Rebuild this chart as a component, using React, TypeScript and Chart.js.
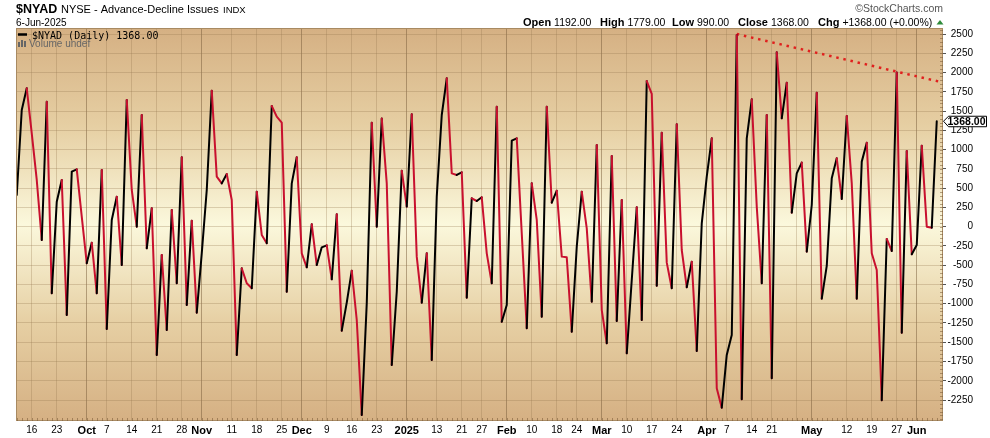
import React, { useEffect, useRef } from "react";
import { Chart, registerables } from "chart.js";

Chart.register(...registerables);

// NYSE Advance-Decline Issues, daily, 11-Sep-2024 .. 6-Jun-2025 (one value per trading day)
const nyadValues: number[] = [
  411, 1514, 1795, 1211, 606, -173, 1622, -865, 324, 606,
  -1146, 714, 744, 130, -476, -208, -865, 735, -1328, 87,
  389, -498, 1644, 476, 0, 1449, -281, 238, -1665, -368,
  -1341, 216, -735, 900, -1017, 78, -1116, -346, 476, 1765,
  649, 562, 683, 346, -1665, -541, -735, -800, 454, -108,
  -216, 1566, 1428, 1350, -844, 562, 900, -346, -528, 30,
  -498, -268, -242, -684, 160, -1350, -986, -571, -1211, -2444,
  -995, 1350, 0, 1402, 562, -1795, -844, 727, 260, 1458,
  -389, -986, -346, -1730, 389, 1449, 1925, 692, 671, 705,
  -921, 368, 333, 381, -346, -735, 1557, -1233, -1017, 1116,
  1146, -87, -1319, 562, 87, -1168, 1557, 311, 467, -389,
  -398, -1363, -260, 454, -22, -973, 1060, -1082, -1514, 917,
  -1224, 346, -1644, -692, 251, -1211, 1890, 1722, -766, 1220,
  -467, -800, 1328, -303, -787, -454, -1614, 43, 649, 1146,
  -2098, -2349, -1665, -1406, 2487, -2241, 1146, 1653, 260, -735,
  1449, -1968, 2262, 1406, 1869, 182, 692, 831, -324, 281,
  1739, -934, -510, 627, 887, 359, 1436, 562, -934, 844,
  1090, -346, -562, -2253, -160, -316, 1999, -1376, 982, -359,
  -238, 1051, 0, -13, 1368,
];

// x-axis labels (trading-day index -> text)
const labelIndices: number[] = [
  3, 8, 14, 18, 23, 28, 33, 37, 43, 48, 53, 57, 62, 67, 72, 78, 84, 89,
  93, 98, 103, 108, 112, 117, 122, 127, 132, 138, 142, 147, 151, 159, 166,
  171, 176, 180,
];
const labelTexts: string[] = [
  "16", "23", "Oct", "7", "14", "21", "28", "Nov", "11", "18", "25", "Dec",
  "9", "16", "23", "2025", "13", "21", "27", "Feb", "10", "18", "24", "Mar",
  "10", "17", "24", "Apr", "7", "14", "21", "May", "12", "19", "27", "Jun",
];
const monthStartIndices: number[] = [14, 37, 57, 78, 98, 117, 138, 159, 180];
const extraGridIndices: number[] = [156];

const yTickValues: number[] = [
  -2250, -2000, -1750, -1500, -1250, -1000, -750, -500, -250, 0, 250, 500,
  750, 1000, 1250, 1500, 1750, 2000, 2250, 2500,
];

// dotted resistance line
const trendIndex: number[] = [144, 185.3];
const trendValue: number[] = [2500, 1870];

const lastValue = "1368.00";
const FONT = "'Liberation Sans', Arial, Helvetica, sans-serif";
const RED = "#c8102e";

export default function App() {
  const ref = useRef<HTMLCanvasElement>(null);

  useEffect(() => {
    document.body.style.margin = "0";
    const canvas = ref.current!;
    const points = nyadValues.map((v, i) => ({ x: i, y: v }));
    const trend = trendIndex.map((x, k) => ({ x, y: trendValue[k] }));
    const gridIndices = Array.from(new Set([...labelIndices, ...extraGridIndices])).sort((a, b) => a - b);

    const bgPlugin = {
      id: "bgGradient",
      beforeDraw(chart: any) {
        const { ctx, chartArea: a } = chart;
        const g = ctx.createLinearGradient(0, a.top, 0, a.bottom);
        g.addColorStop(0, "#d5b083");
        g.addColorStop(0.25, "#e6cfa3");
        g.addColorStop(0.5, "#fbf8dc");
        g.addColorStop(0.75, "#e6cfa3");
        g.addColorStop(1, "#d5b083");
        ctx.save();
        ctx.fillStyle = g;
        ctx.fillRect(a.left, a.top, a.right - a.left, a.bottom - a.top);
        ctx.restore();
      },
    };

    const overlayPlugin = {
      id: "overlay",
      afterDraw(chart: any) {
        const c: CanvasRenderingContext2D = chart.ctx;
        const a = chart.chartArea;
        const xs = chart.scales.x;
        const ys = chart.scales.y;
        c.save();

        // plot border
        c.strokeStyle = "#a88a62";
        c.lineWidth = 1;
        c.strokeRect(a.left + 0.5, a.top + 0.5, a.right - a.left - 1, a.bottom - a.top - 1);

        // minor ticks bottom (daily) and right
        c.strokeStyle = "rgba(120,90,55,0.55)";
        c.beginPath();
        for (let i = 0; i < nyadValues.length; i++) {
          const px = Math.round(xs.getPixelForValue(i)) + 0.5;
          c.moveTo(px, a.bottom - 3);
          c.lineTo(px, a.bottom);
        }
        for (let v = -2500; v <= 2550; v += 50) {
          const py = Math.round(ys.getPixelForValue(v)) + 0.5;
          c.moveTo(a.right - 3, py);
          c.lineTo(a.right, py);
        }
        c.stroke();

        // header
        c.textAlign = "left";
        c.textBaseline = "alphabetic";
        c.fillStyle = "#000";
        c.font = `bold 12.5px ${FONT}`;
        c.fillText("$NYAD", 16, 13);
        c.font = `11px ${FONT}`;
        c.fillText("NYSE - Advance-Decline Issues", 61, 13);
        c.font = `9.5px ${FONT}`;
        c.fillText("INDX", 223, 13);
        c.font = `10px ${FONT}`;
        c.fillText("6-Jun-2025", 16, 26);

        c.textAlign = "right";
        c.fillStyle = "#555";
        c.font = `10.5px ${FONT}`;
        c.fillText("\u00A9StockCharts.com", 943, 12);

        // OHLC row
        c.textAlign = "left";
        const labelsX = [523, 600, 672, 738, 818];
        const labs = ["Open", "High", "Low", "Close", "Chg"];
        const vals = ["1192.00", "1779.00", "990.00", "1368.00", "+1368.00 (+0.00%)"];
        for (let k = 0; k < labs.length; k++) {
          c.fillStyle = "#000";
          c.font = `bold 11px ${FONT}`;
          c.fillText(labs[k], labelsX[k], 26);
          const w = c.measureText(labs[k]).width;
          c.font = `10.5px ${FONT}`;
          c.fillText(vals[k], labelsX[k] + w + 3, 26);
        }
        c.fillStyle = "#2e8b3a";
        c.beginPath();
        c.moveTo(936.5, 24.5);
        c.lineTo(943.5, 24.5);
        c.lineTo(940, 20);
        c.closePath();
        c.fill();

        // in-chart legend
        c.strokeStyle = "#000";
        c.lineWidth = 2.5;
        c.beginPath();
        c.moveTo(18, 34.5);
        c.lineTo(27, 34.5);
        c.stroke();
        c.fillStyle = "#000";
        c.font = `10px 'DejaVu Sans Mono', monospace`;
        c.fillText(`$NYAD (Daily) ${lastValue}`, 32, 38.5);
        c.fillStyle = "#666";
        c.fillRect(18, 42, 2, 5);
        c.fillRect(21, 40, 2, 7);
        c.fillRect(24, 41, 2, 6);
        c.font = `10px ${FONT}`;
        c.fillText("Volume undef", 29, 47);

        // last value marker
        const py = ys.getPixelForValue(nyadValues[nyadValues.length - 1]);
        c.fillStyle = "#fff";
        c.strokeStyle = "#000";
        c.lineWidth = 1;
        c.beginPath();
        c.moveTo(a.right + 0.5, py);
        c.lineTo(a.right + 5.5, py - 5);
        c.lineTo(986.5, py - 5);
        c.lineTo(986.5, py + 5.5);
        c.lineTo(a.right + 5.5, py + 5.5);
        c.closePath();
        c.fill();
        c.stroke();
        c.fillStyle = "#000";
        c.textAlign = "center";
        c.textBaseline = "middle";
        c.font = `bold 10.5px ${FONT}`;
        c.fillText(lastValue, 966.5, py + 0.8);

        c.restore();
      },
    };

    const chart = new Chart(canvas, {
      type: "line",
      data: {
        datasets: [
          {
            data: points,
            borderWidth: 2,
            borderColor: "#000",
            pointRadius: 0,
            tension: 0,
            borderCapStyle: "round",
            borderJoinStyle: "round",
            segment: {
              borderColor: (s: any) => (s.p1.parsed.y >= s.p0.parsed.y ? "#000" : RED),
            },
          } as any,
          {
            data: trend,
            borderWidth: 2.5,
            borderColor: "#e0201e",
            borderDash: [2.5, 4.8],
            pointRadius: 0,
            tension: 0,
          },
        ],
      },
      options: {
        animation: false,
        responsive: false,
        devicePixelRatio: 1,
        layout: { padding: { left: 16, top: 28, right: 17, bottom: 0 } },
        plugins: { legend: { display: false }, tooltip: { enabled: false } },
        scales: {
          x: {
            type: "linear",
            min: -0.15,
            max: 185.25,
            afterBuildTicks: (s: any) => {
              s.ticks = gridIndices.map((v) => ({ value: v }));
            },
            afterFit: (s: any) => {
              s.height = 17;
            },
            border: { display: false },
            grid: {
              drawTicks: false,
              color: (c: any) =>
                monthStartIndices.includes(c.tick?.value) ? "rgba(120,92,58,0.5)" : "rgba(150,118,78,0.3)",
            },
            ticks: {
              autoSkip: false,
              maxRotation: 0,
              padding: 3,
              color: "#000",
              font: (c: any) => {
                const bold = monthStartIndices.includes(c.tick?.value);
                return { family: FONT, size: bold ? 11 : 10, weight: bold ? "bold" : "normal" };
              },
              callback: (v: any) => {
                const k = labelIndices.indexOf(Number(v));
                return k >= 0 ? labelTexts[k] : "";
              },
            },
          },
          y: {
            type: "linear",
            position: "right",
            min: -2522,
            max: 2578,
            afterBuildTicks: (s: any) => {
              s.ticks = yTickValues.map((v) => ({ value: v }));
            },
            afterFit: (s: any) => {
              s.width = 30;
            },
            border: { display: false },
            grid: { color: "rgba(150,118,78,0.3)", tickLength: 3, tickColor: "#555" },
            ticks: {
              padding: 2,
              crossAlign: "far",
              color: "#000",
              font: { family: FONT, size: 10 },
              callback: (v: any) => String(v),
            },
          },
        },
      } as any,
      plugins: [bgPlugin, overlayPlugin],
    });

    return () => chart.destroy();
  }, []);

  return (
    <div style={{ width: 990, height: 438, position: "relative" }}>
      <canvas ref={ref} width={990} height={438} style={{ display: "block" }} />
    </div>
  );
}
